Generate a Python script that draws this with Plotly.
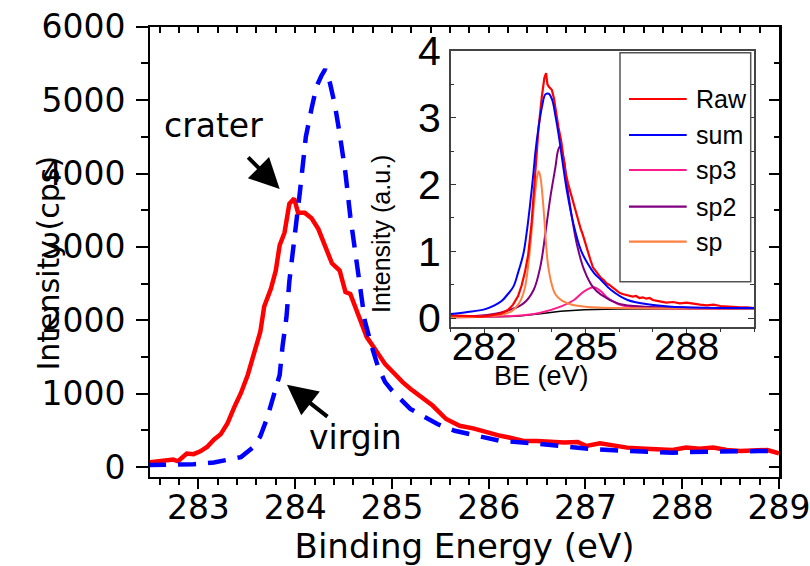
import plotly.graph_objects as go

# ---------------- main chart data ----------------
crater_x = [282.48, 282.60, 282.70, 282.74, 282.79, 282.88, 282.95, 283.02, 283.09, 283.16, 283.23,
            283.30, 283.37, 283.44, 283.51, 283.57, 283.64, 283.68, 283.75, 283.80, 283.84, 283.89,
            283.94, 283.99, 284.03, 284.10, 284.17, 284.24, 284.31, 284.38, 284.46, 284.52, 284.57,
            284.66, 284.74, 284.83, 284.93, 285.04, 285.11, 285.19, 285.28, 285.42, 285.56, 285.70,
            285.84, 285.98, 286.12, 286.21, 286.36, 286.50, 286.64, 286.78, 286.92, 287.01, 287.15,
            287.29, 287.43, 287.62, 287.76, 287.90, 288.04, 288.18, 288.32, 288.46, 288.60, 288.74,
            288.88, 289.00]
crater_y = [64, 80, 95, 103, 80, 186, 177, 216, 275, 373, 447,
            594, 815, 1011, 1256, 1550, 1845, 2188, 2434, 2679, 3023, 3194,
            3587, 3660, 3464, 3464, 3391, 3243, 3023, 2777, 2679, 2385, 2360,
            2041, 1771, 1600, 1403, 1256, 1158, 1069, 977, 839, 656, 564,
            528, 472, 427, 404, 358, 358, 344, 335, 344, 289, 326,
            298, 266, 252, 243, 234, 266, 252, 266, 234, 220, 234,
            234, 188]

virgin_x = [282.48, 282.67, 282.95, 283.16, 283.44, 283.57, 283.64, 283.71, 283.78, 283.84, 283.87,
            283.91, 283.94, 283.98, 284.01, 284.05, 284.08, 284.11, 284.17, 284.22, 284.27, 284.31,
            284.36, 284.41, 284.46, 284.52, 284.57, 284.62, 284.67, 284.72, 284.79, 284.86, 284.93,
            285.00, 285.19, 285.47, 285.65, 285.93, 286.12, 286.45, 286.64, 286.92, 287.10, 287.43,
            287.62, 287.90, 288.08, 288.46, 288.79, 289.00]
virgin_y = [29, 29, 39, 64, 137, 275, 422, 667, 962, 1256, 1649,
            2041, 2532, 2924, 3317, 3759, 4151, 4495, 4887, 5181, 5329, 5420,
            5231, 4936, 4544, 4004, 3415, 2924, 2434, 1992, 1649, 1354, 1158,
            1046, 794, 587, 495, 404, 358, 326, 303, 266, 243, 220,
            206, 197, 206, 220, 220, 220]

# ---------------- inset data ----------------
raw_x = [281.0, 281.3, 281.6, 281.9, 282.2, 282.5, 282.7, 282.85, 283.0, 283.1, 283.2, 283.3, 283.4,
         283.5, 283.6, 283.7, 283.78, 283.83, 283.87, 283.92, 284.0, 284.06, 284.12, 284.2, 284.28,
         284.34, 284.4, 284.48, 284.56, 284.62, 284.7, 284.78, 284.86, 284.92, 285.0, 285.06, 285.14,
         285.22, 285.3, 285.38, 285.46, 285.54, 285.62, 285.7, 285.8, 285.9, 286.0, 286.1, 286.2,
         286.3, 286.4, 286.5, 286.6, 286.7, 286.8, 286.9, 287.0, 287.2, 287.4, 287.6, 287.8, 288.0,
         288.2, 288.4, 288.6, 288.8, 289.0, 289.2, 289.4, 289.6, 289.8, 290.0]
raw_y = [0.04, 0.03, 0.03, 0.02, 0.04, 0.07, 0.12, 0.20, 0.33, 0.48, 0.68, 0.95, 1.42,
         2.10, 2.80, 3.30, 3.60, 3.67, 3.50, 3.46, 3.42, 3.30, 3.10, 2.85, 2.65,
         2.38, 2.20, 2.02, 1.87, 1.74, 1.60, 1.45, 1.33, 1.25, 1.10, 1.00, 0.88,
         0.76, 0.70, 0.66, 0.60, 0.57, 0.52, 0.50, 0.46, 0.41, 0.38, 0.36, 0.35,
         0.33, 0.32, 0.33, 0.30, 0.31, 0.29, 0.30, 0.27, 0.25, 0.23, 0.24, 0.22, 0.23,
         0.21, 0.20, 0.19, 0.20, 0.18, 0.17, 0.17, 0.16, 0.16, 0.15]

sum_x = [281.0, 281.5, 282.0, 282.3, 282.5, 282.7, 282.86, 283.0, 283.16, 283.26, 283.36, 283.46,
         283.51, 283.61, 283.71, 283.81, 283.91, 284.01, 284.11, 284.21, 284.31, 284.46, 284.66,
         284.86, 285.06, 285.26, 285.46, 285.76, 286.25, 286.95, 287.95, 290.0]
sum_y = [0.06, 0.09, 0.13, 0.19, 0.25, 0.36, 0.47, 0.68, 0.97, 1.30, 1.72, 2.20,
         2.47, 2.87, 3.17, 3.35, 3.36, 3.27, 3.02, 2.72, 2.37, 1.87, 1.37,
         1.02, 0.82, 0.67, 0.57, 0.42, 0.27, 0.20, 0.16, 0.15]

sp3_x = [281.0, 282.96, 283.66, 284.26, 284.66, 284.96, 285.24, 285.46, 285.66, 285.96, 286.45, 290.0]
sp3_y = [0.01, 0.035, 0.08, 0.17, 0.27, 0.40, 0.46, 0.40, 0.30, 0.21, 0.16, 0.145]

sp2_x = [281.0, 282.47, 283.16, 283.46, 283.66, 283.81, 283.96, 284.11, 284.18, 284.24, 284.36,
         284.46, 284.61, 284.76, 284.96, 285.21, 285.46, 285.96, 286.45, 287.45, 290.0]
sp2_y = [0.01, 0.08, 0.22, 0.42, 0.77, 1.27, 1.82, 2.27, 2.50, 2.57, 2.37,
         1.97, 1.47, 1.07, 0.72, 0.47, 0.35, 0.22, 0.18, 0.16, 0.145]

sp_x = [281.0, 281.8, 282.4, 282.8, 283.0, 283.1, 283.21, 283.34, 283.43, 283.5, 283.56, 283.61,
        283.66, 283.72, 283.78, 283.85, 283.9, 284.0, 284.1, 284.3, 284.6, 285.0, 286.0, 290.0]
sp_y = [0.01, 0.02, 0.04, 0.10, 0.20, 0.29, 0.47, 0.97, 1.47, 1.85, 2.10, 2.20,
        2.12, 1.85, 1.47, 0.97, 0.75, 0.50, 0.36, 0.26, 0.20, 0.17, 0.15, 0.145]

bg_x = [281.0, 282.96, 283.66, 284.26, 284.96, 285.96, 290.0]
bg_y = [0.01, 0.025, 0.065, 0.10, 0.125, 0.135, 0.14]

legend_names = ["Raw", "sum", "sp3", "sp2", "sp"]
legend_colors = ["#ff0000", "#0000ff", "#ff1a8c", "#800080", "#ff8040"]

MAINFONT = "DejaVu Sans"
INSETFONT = "Liberation Sans, Arial"

fig = go.Figure()

fig.add_trace(go.Scatter(x=crater_x, y=crater_y, mode="lines", name="crater",
                         line=dict(color="#ff0000", width=4.5), xaxis="x", yaxis="y"))
fig.add_trace(go.Scatter(x=virgin_x, y=virgin_y, mode="lines", name="virgin",
                         line=dict(color="#0000ff", width=4.5, dash="18px,12px"), xaxis="x", yaxis="y"))
# empty trace so that the mirrored (inward-tick) frame axes are rendered
fig.add_trace(go.Scatter(x=[None], y=[None], mode="lines", xaxis="x3", yaxis="y3",
                         hoverinfo="skip", showlegend=False))

inset_series = [
    (bg_x, bg_y, "#000000", "bg", "linear", 1.5),
    (sp3_x, sp3_y, legend_colors[2], "sp3", "spline", 2),
    (sp2_x, sp2_y, legend_colors[3], "sp2", "spline", 2),
    (sp_x, sp_y, legend_colors[4], "sp", "spline", 2),
    (raw_x, raw_y, legend_colors[0], "Raw", "linear", 2.2),
    (sum_x, sum_y, legend_colors[1], "sum", "spline", 2),
]
for xs, ys, col, nm, shp, w in inset_series:
    fig.add_trace(go.Scatter(x=xs, y=ys, mode="lines", name=nm,
                             line=dict(color=col, width=w, shape=shp),
                             xaxis="x2", yaxis="y2"))

W, H = 810, 566
def px(x): return x / W
def py(y): return 1 - y / H

main_xdom = [px(150), px(779)]
main_ydom = [py(476.7), py(26.7)]
xr = [282.5, 289.0001]
yr = [-130, 6000]

fig.update_layout(
    width=W, height=H, margin=dict(l=0, r=0, t=0, b=0, autoexpand=False),
    paper_bgcolor="white", plot_bgcolor="white", showlegend=False,
    xaxis=dict(domain=main_xdom, range=xr, anchor="y", dtick=1, tick0=283, automargin=False,
               ticks="outside", ticklen=10, tickwidth=2, tickcolor="black",
               minor=dict(dtick=0.2, ticks="outside", ticklen=6, tickwidth=2, tickcolor="black"),
               showline=True, linecolor="black", linewidth=2, showgrid=False, zeroline=False,
               tickfont=dict(family=MAINFONT, size=33, color="black"), ticklabelstandoff=-9,
               ticklabeloverflow="allow",
               title=dict(text="Binding Energy (eV)", font=dict(family=MAINFONT, size=34, color="black"),
                          standoff=20)),
    yaxis=dict(domain=main_ydom, range=yr, anchor="x", dtick=1000, automargin=False,
               ticks="outside", ticklen=12, tickwidth=2, tickcolor="black",
               minor=dict(dtick=500, ticks="outside", ticklen=7, tickwidth=2, tickcolor="black"),
               showline=True, linecolor="black", linewidth=2, showgrid=False, zeroline=False,
               tickfont=dict(family=MAINFONT, size=33, color="black"), ticklabelstandoff=4,
               ticklabeloverflow="allow"),
    xaxis3=dict(overlaying="x", side="top", anchor="y", range=xr, dtick=1, tick0=283, automargin=False,
                ticks="inside", ticklen=6, tickwidth=2, tickcolor="black",
                minor=dict(dtick=0.2, ticks="inside", ticklen=6, tickwidth=2, tickcolor="black"),
                showline=True, linecolor="black", linewidth=2, showgrid=False, zeroline=False,
                showticklabels=False),
    yaxis3=dict(overlaying="y", side="right", anchor="x", range=yr, dtick=1000, automargin=False,
                ticks="inside", ticklen=10, tickwidth=2, tickcolor="black",
                minor=dict(dtick=500, ticks="inside", ticklen=5, tickwidth=2, tickcolor="black"),
                showline=True, linecolor="black", linewidth=2.5, showgrid=False, zeroline=False,
                showticklabels=False),
    xaxis2=dict(domain=[px(450.7), px(754)], range=[281, 290], anchor="y2", dtick=3, tick0=282,
                automargin=False,
                ticks="outside", ticklen=5, tickwidth=1, tickcolor="#333",
                minor=dict(dtick=1, ticks="outside", ticklen=4, tickwidth=1, tickcolor="#333"),
                showline=True, linecolor="#444", linewidth=1.5, mirror=True,
                showgrid=False, zeroline=False,
                tickfont=dict(family=INSETFONT, size=39, color="black"), ticklabelstandoff=-20),
    yaxis2=dict(domain=[py(326.7), py(51)], range=[-0.13, 4], anchor="x2", dtick=1,
                automargin=False,
                ticks="inside", ticklen=6, tickwidth=1, tickcolor="#333",
                minor=dict(dtick=0.5, ticks="inside", ticklen=4, tickwidth=1, tickcolor="#333"),
                showline=True, linecolor="#444", linewidth=1.5, mirror="ticks",
                showgrid=False, zeroline=False,
                tickfont=dict(family=INSETFONT, size=41, color="black"), ticklabelstandoff=0),
)

shapes = [dict(type="rect", xref="paper", yref="paper", x0=px(620), x1=px(750.7),
               y0=py(281.7), y1=py(52.7), line=dict(color="#555", width=1.5),
               fillcolor="white", layer="above")]
rows = [99, 135, 170, 206.7, 241.7]
annotations = []
for name, col, ry in zip(legend_names, legend_colors, rows):
    shapes.append(dict(type="line", xref="paper", yref="paper", x0=px(629), x1=px(686.7),
                       y0=py(ry), y1=py(ry), line=dict(color=col, width=2.2), layer="above"))
    annotations.append(dict(xref="paper", yref="paper", x=px(694), y=py(ry), text=name,
                            showarrow=False, xanchor="left", yanchor="middle",
                            font=dict(family=INSETFONT, size=25, color="black")))

annotations += [
    dict(xref="paper", yref="paper", x=px(28), y=py(263), text="Intensity (cps)", textangle=-90,
         showarrow=False, font=dict(family=MAINFONT, size=30, color="black")),
    dict(xref="paper", yref="paper", x=px(381), y=py(153), text="Intensity (a.u.)", textangle=-90,
         showarrow=False, font=dict(family=INSETFONT, size=25, color="black")),
    dict(xref="paper", yref="paper", x=px(591), y=py(393), text="BE (eV)",
         showarrow=False, font=dict(family=INSETFONT, size=27, color="black")),
    dict(xref="x", yref="y", x=283.16, y=4648, text="crater", showarrow=False,
         font=dict(family=MAINFONT, size=33, color="black")),
    dict(xref="x", yref="y", x=284.62, y=399, text="virgin", showarrow=False,
         font=dict(family=MAINFONT, size=33, color="black")),
    dict(xref="x", yref="y", x=283.84, y=3790, text="", showarrow=True, ax=-33, ay=-33,
         arrowhead=2, arrowsize=1.5, arrowwidth=4, arrowcolor="black"),
    dict(xref="x", yref="y", x=283.915, y=1121, text="", showarrow=True, ax=42, ay=33,
         arrowhead=2, arrowsize=1.5, arrowwidth=4, arrowcolor="black"),
]
fig.update_layout(shapes=shapes, annotations=annotations)

fig.write_html("out.html")
